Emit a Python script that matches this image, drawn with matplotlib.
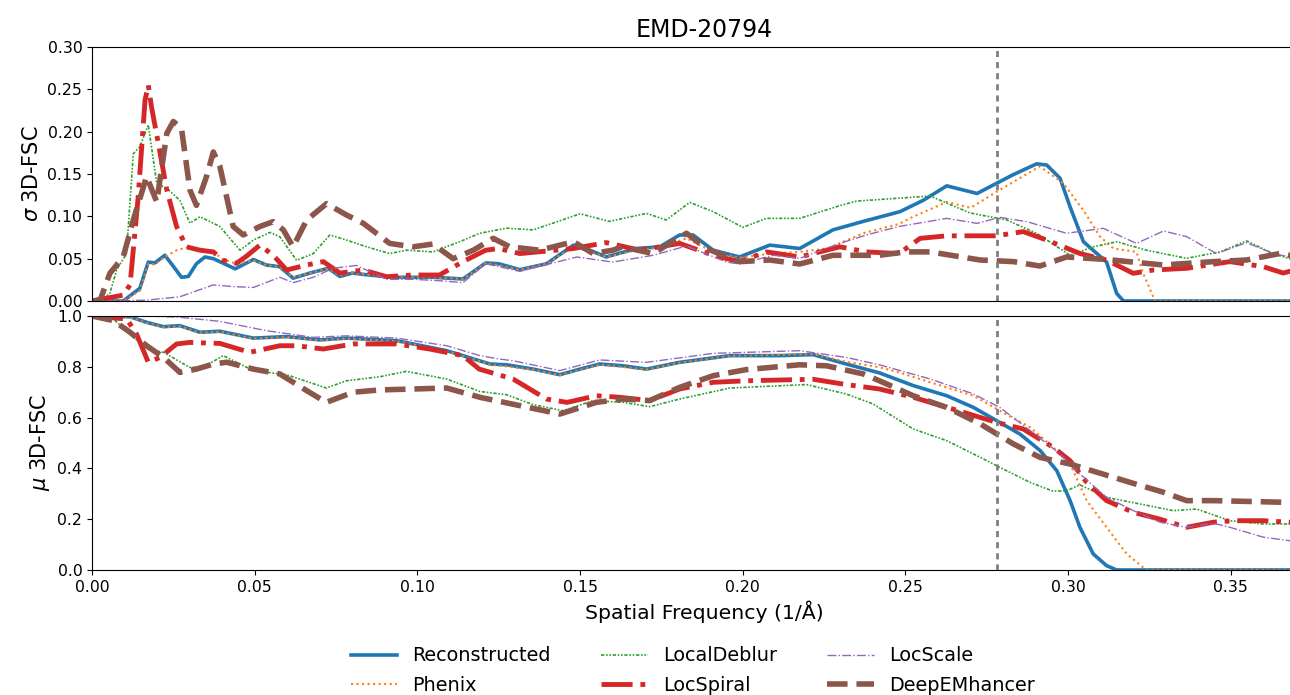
import numpy as np
import matplotlib.pyplot as plt

# sigma of 3D-FSC (top panel), (spatial frequency, value)
recon_sigma = [(0, 0), (0.0096, 0), (0.0147, 0.015), (0.0173, 0.046), (0.0193, 0.045), (0.0224, 0.054),
               (0.025, 0.041), (0.0275, 0.028), (0.0296, 0.029), (0.0321, 0.044), (0.0347, 0.052),
               (0.0373, 0.050), (0.044, 0.038), (0.0496, 0.049), (0.0536, 0.0425), (0.0577, 0.0405),
               (0.0618, 0.027), (0.067, 0.033), (0.0726, 0.0386), (0.0762, 0.029), (0.080, 0.033),
               (0.0844, 0.031), (0.0925, 0.028), (0.0987, 0.028), (0.105, 0.028), (0.114, 0.026),
               (0.121, 0.045), (0.125, 0.044), (0.1315, 0.037), (0.1397, 0.044), (0.148, 0.066),
               (0.153, 0.060), (0.158, 0.052), (0.1673, 0.062), (0.1745, 0.064), (0.1806, 0.078),
               (0.1847, 0.078), (0.1909, 0.060), (0.199, 0.052), (0.2083, 0.066), (0.2175, 0.062),
               (0.2277, 0.084), (0.237, 0.094), (0.2483, 0.1055), (0.2555, 0.119), (0.2627, 0.136),
               (0.272, 0.127), (0.278, 0.139), (0.283, 0.149), (0.2903, 0.162), (0.2934, 0.1606),
               (0.2975, 0.145), (0.3006, 0.111), (0.3047, 0.070), (0.3118, 0.046), (0.3149, 0.009),
               (0.317, 0), (0.38, 0)]
phenix_sigma = [(0, 0), (0.0096, 0), (0.0147, 0.012), (0.0173, 0.044), (0.0193, 0.043), (0.0224, 0.052),
                (0.026, 0.060), (0.029, 0.063), (0.0332, 0.060), (0.0373, 0.058), (0.0403, 0.049),
                (0.0444, 0.044), (0.0496, 0.048), (0.0536, 0.0425), (0.0577, 0.040), (0.0618, 0.028),
                (0.067, 0.033), (0.0726, 0.038), (0.0762, 0.030), (0.080, 0.033), (0.0925, 0.028),
                (0.105, 0.028), (0.114, 0.026), (0.121, 0.045), (0.1315, 0.037), (0.1397, 0.044),
                (0.148, 0.064), (0.158, 0.052), (0.1673, 0.060), (0.1745, 0.063), (0.1827, 0.074),
                (0.1909, 0.058), (0.199, 0.051), (0.2083, 0.056), (0.2175, 0.058), (0.226, 0.062),
                (0.237, 0.080), (0.248, 0.091), (0.2524, 0.0996), (0.2627, 0.117), (0.27, 0.110),
                (0.278, 0.129), (0.2913, 0.159), (0.2985, 0.139), (0.3047, 0.107), (0.3098, 0.076),
                (0.3139, 0.062), (0.321, 0.058), (0.323, 0.033), (0.3267, 0), (0.38, 0)]
deblur_sigma = [(0, 0), (0.0025, 0), (0.0055, 0.009), (0.0076, 0.037), (0.0106, 0.056), (0.0127, 0.174),
                (0.0147, 0.182), (0.0173, 0.208), (0.0199, 0.139), (0.023, 0.133), (0.027, 0.119),
                (0.0301, 0.092), (0.0332, 0.0996), (0.0393, 0.088), (0.0455, 0.060), (0.0496, 0.072),
                (0.0547, 0.081), (0.0577, 0.076), (0.0629, 0.048), (0.068, 0.056), (0.0731, 0.078),
                (0.0782, 0.072), (0.0844, 0.064), (0.0915, 0.056), (0.0966, 0.060), (0.1048, 0.058),
                (0.113, 0.070), (0.1192, 0.080), (0.1274, 0.086), (0.1356, 0.084), (0.15, 0.103),
                (0.159, 0.094), (0.1704, 0.1035), (0.1765, 0.0957), (0.1837, 0.1165), (0.1909, 0.1055),
                (0.2, 0.087), (0.2073, 0.0976), (0.2175, 0.0976), (0.2298, 0.1126), (0.235, 0.118),
                (0.2576, 0.124), (0.2698, 0.104), (0.2811, 0.0957), (0.2903, 0.080), (0.3006, 0.054),
                (0.3077, 0.064), (0.315, 0.070), (0.3241, 0.060), (0.3364, 0.0504), (0.3467, 0.058),
                (0.3548, 0.071), (0.363, 0.056), (0.368, 0.050), (0.38, 0.048)]
spiral_sigma = [(0, 0), (0.0096, 0.007), (0.0117, 0.019), (0.0142, 0.123), (0.0163, 0.237), (0.0173, 0.255),
                (0.0183, 0.229), (0.0204, 0.186), (0.023, 0.131), (0.026, 0.088), (0.029, 0.064),
                (0.0332, 0.060), (0.0373, 0.058), (0.0403, 0.048), (0.0444, 0.0445), (0.0475, 0.053),
                (0.0516, 0.066), (0.0557, 0.054), (0.0598, 0.0366), (0.066, 0.0425), (0.0711, 0.0465),
                (0.0762, 0.033), (0.0834, 0.0366), (0.0905, 0.0287), (0.0987, 0.0307), (0.1068, 0.0307),
                (0.114, 0.0465), (0.121, 0.060), (0.125, 0.062), (0.1315, 0.056), (0.148, 0.062),
                (0.158, 0.069), (0.1683, 0.060), (0.1806, 0.068), (0.1909, 0.054), (0.199, 0.0465),
                (0.2073, 0.058), (0.2175, 0.052), (0.2298, 0.064), (0.238, 0.058), (0.248, 0.056),
                (0.2545, 0.074), (0.2627, 0.077), (0.278, 0.077), (0.2862, 0.082), (0.2934, 0.072),
                (0.3037, 0.056), (0.3118, 0.0484), (0.32, 0.0327), (0.3262, 0.0366), (0.3364, 0.0386),
                (0.3497, 0.0465), (0.36, 0.0405), (0.3661, 0.033), (0.368, 0.035), (0.38, 0.036)]
locscale_sigma = [(0, 0), (0.006, 0), (0.0168, 0.001), (0.027, 0.005), (0.0373, 0.019), (0.0434, 0.017),
                  (0.0496, 0.016), (0.0577, 0.028), (0.0618, 0.0217), (0.068, 0.028), (0.0741, 0.0386),
                  (0.0813, 0.042), (0.0905, 0.0256), (0.0987, 0.0256), (0.1068, 0.024), (0.114, 0.0217),
                  (0.121, 0.044), (0.125, 0.0406), (0.1315, 0.035), (0.149, 0.052), (0.160, 0.046),
                  (0.1725, 0.054), (0.1827, 0.065), (0.195, 0.046), (0.199, 0.0437), (0.2093, 0.054),
                  (0.2175, 0.0504), (0.2298, 0.068), (0.238, 0.078), (0.248, 0.088), (0.2627, 0.0976),
                  (0.272, 0.0917), (0.279, 0.0988), (0.2873, 0.0937), (0.2995, 0.080), (0.3108, 0.0858),
                  (0.321, 0.068), (0.3293, 0.0827), (0.3364, 0.076), (0.3456, 0.056), (0.3548, 0.069),
                  (0.363, 0.056), (0.368, 0.052), (0.38, 0.050)]
deepem_sigma = [(0, 0), (0.0025, 0.001), (0.0055, 0.0327), (0.0096, 0.052), (0.0127, 0.0957), (0.0168, 0.147),
                (0.0199, 0.117), (0.023, 0.198), (0.025, 0.212), (0.0275, 0.204), (0.0301, 0.131),
                (0.0321, 0.113), (0.0352, 0.147), (0.0373, 0.176), (0.0393, 0.159), (0.0434, 0.088),
                (0.0465, 0.078), (0.0516, 0.088), (0.0557, 0.0937), (0.0588, 0.084), (0.0618, 0.064),
                (0.066, 0.0957), (0.0721, 0.115), (0.0782, 0.1016), (0.0834, 0.0917), (0.0915, 0.068),
                (0.0987, 0.064), (0.1048, 0.0673), (0.111, 0.050), (0.1172, 0.060), (0.1233, 0.074),
                (0.1284, 0.064), (0.1376, 0.060), (0.148, 0.070), (0.154, 0.056), (0.160, 0.060),
                (0.163, 0.064), (0.1724, 0.056), (0.1827, 0.080), (0.1888, 0.062), (0.199, 0.0465),
                (0.2083, 0.0484), (0.2175, 0.0437), (0.2277, 0.054), (0.242, 0.054), (0.250, 0.058),
                (0.2576, 0.058), (0.273, 0.0484), (0.2832, 0.0465), (0.2913, 0.0413), (0.2995, 0.052),
                (0.3118, 0.049), (0.3293, 0.0425), (0.3446, 0.0465), (0.3548, 0.0484), (0.365, 0.056),
                (0.368, 0.054), (0.38, 0.053)]

# mean of 3D-FSC (bottom panel)
recon_mu = [(0, 1.0), (0.0117, 0.997), (0.0168, 0.975), (0.022, 0.958), (0.027, 0.962), (0.0332, 0.936),
            (0.0393, 0.94), (0.0496, 0.913), (0.0598, 0.919), (0.070, 0.906), (0.0782, 0.913),
            (0.0936, 0.903), (0.109, 0.8635), (0.1223, 0.811), (0.1274, 0.808), (0.1356, 0.791),
            (0.1438, 0.769), (0.15, 0.791), (0.156, 0.811), (0.1632, 0.804), (0.1704, 0.791),
            (0.1806, 0.8176), (0.196, 0.844), (0.2114, 0.844), (0.2216, 0.848), (0.2318, 0.811),
            (0.242, 0.776), (0.2524, 0.726), (0.2627, 0.686), (0.2709, 0.640), (0.278, 0.588),
            (0.2852, 0.535), (0.2914, 0.470), (0.2965, 0.391), (0.3006, 0.273), (0.3036, 0.168),
            (0.3077, 0.063), (0.3118, 0.017), (0.3149, 0), (0.38, 0)]
phenix_mu = [(0, 1.0), (0.0117, 0.995), (0.0168, 0.973), (0.022, 0.956), (0.027, 0.960), (0.0332, 0.934),
             (0.0393, 0.938), (0.0496, 0.911), (0.0598, 0.917), (0.070, 0.904), (0.0782, 0.911),
             (0.0936, 0.901), (0.109, 0.862), (0.1223, 0.809), (0.1356, 0.789), (0.1438, 0.767),
             (0.156, 0.809), (0.1704, 0.789), (0.1806, 0.816), (0.196, 0.843), (0.2216, 0.850),
             (0.2318, 0.820), (0.242, 0.798), (0.248, 0.778), (0.2576, 0.739), (0.2709, 0.686),
             (0.279, 0.627), (0.2883, 0.562), (0.2954, 0.483), (0.3006, 0.417), (0.3057, 0.273),
             (0.3118, 0.168), (0.318, 0.063), (0.324, 0), (0.38, 0)]
deblur_mu = [(0, 1.0), (0.0066, 0.988), (0.0117, 0.929), (0.0168, 0.870), (0.022, 0.857), (0.030, 0.798),
             (0.0342, 0.798), (0.0403, 0.844), (0.0496, 0.785), (0.0598, 0.769), (0.072, 0.7165),
             (0.0782, 0.745), (0.0885, 0.761), (0.0966, 0.782), (0.109, 0.752), (0.1192, 0.703),
             (0.1274, 0.690), (0.1356, 0.651), (0.1448, 0.627), (0.154, 0.667), (0.1632, 0.660),
             (0.1714, 0.643), (0.1806, 0.673), (0.196, 0.7165), (0.2196, 0.730), (0.2318, 0.693),
             (0.24, 0.654), (0.248, 0.590), (0.2524, 0.555), (0.2627, 0.509), (0.273, 0.4436),
             (0.279, 0.404), (0.2883, 0.345), (0.2954, 0.310), (0.2995, 0.312), (0.3036, 0.335),
             (0.3118, 0.286), (0.322, 0.260), (0.3323, 0.2336), (0.3395, 0.240), (0.3497, 0.194),
             (0.36, 0.181), (0.368, 0.181), (0.38, 0.181)]
spiral_mu = [(0, 1.0), (0.0107, 0.988), (0.0137, 0.929), (0.0173, 0.818), (0.0209, 0.837), (0.026, 0.89),
             (0.030, 0.896), (0.0393, 0.892), (0.0485, 0.857), (0.0577, 0.883), (0.0629, 0.883),
             (0.0711, 0.870), (0.0803, 0.89), (0.0936, 0.89), (0.1038, 0.870), (0.114, 0.844),
             (0.119, 0.791), (0.1294, 0.752), (0.1397, 0.673), (0.146, 0.660), (0.155, 0.686),
             (0.1622, 0.680), (0.1714, 0.667), (0.1806, 0.7126), (0.1909, 0.739), (0.2011, 0.745),
             (0.2216, 0.751), (0.2318, 0.730), (0.242, 0.7126), (0.2524, 0.680), (0.2678, 0.621),
             (0.278, 0.581), (0.2862, 0.555), (0.2954, 0.483), (0.3006, 0.430), (0.3057, 0.345),
             (0.3118, 0.273), (0.32, 0.227), (0.3282, 0.2), (0.3364, 0.168), (0.3446, 0.188),
             (0.3508, 0.194), (0.36, 0.194), (0.368, 0.188), (0.38, 0.188)]
locscale_mu = [(0, 1.0), (0.0168, 1.0), (0.027, 0.995), (0.0393, 0.979), (0.0537, 0.942), (0.068, 0.916),
               (0.0782, 0.922), (0.0936, 0.913), (0.109, 0.883), (0.1192, 0.844), (0.125, 0.831),
               (0.1294, 0.824), (0.1438, 0.785), (0.156, 0.827), (0.1704, 0.8176), (0.1909, 0.853),
               (0.2175, 0.8635), (0.2318, 0.837), (0.242, 0.808), (0.2576, 0.752), (0.2709, 0.693),
               (0.279, 0.640), (0.2883, 0.549), (0.2975, 0.457), (0.3036, 0.378), (0.3118, 0.286),
               (0.32, 0.234), (0.3282, 0.188), (0.3364, 0.168), (0.3446, 0.184), (0.3497, 0.168),
               (0.36, 0.129), (0.368, 0.1155), (0.38, 0.110)]
deepem_mu = [(0, 1.0), (0.0066, 0.982), (0.0117, 0.936), (0.0168, 0.883), (0.022, 0.837), (0.027, 0.778),
             (0.0321, 0.791), (0.0373, 0.811), (0.0414, 0.818), (0.0496, 0.791), (0.0577, 0.772),
             (0.066, 0.706), (0.072, 0.660), (0.0803, 0.700), (0.0885, 0.709), (0.0987, 0.7126),
             (0.109, 0.7165), (0.1192, 0.680), (0.1315, 0.647), (0.1438, 0.614), (0.155, 0.660),
             (0.1632, 0.673), (0.1714, 0.667), (0.1806, 0.719), (0.1909, 0.765), (0.2011, 0.789),
             (0.2175, 0.808), (0.2257, 0.804), (0.237, 0.772), (0.242, 0.745), (0.2524, 0.686),
             (0.2627, 0.640), (0.273, 0.575), (0.2832, 0.496), (0.2913, 0.4436), (0.3006, 0.417),
             (0.3088, 0.385), (0.319, 0.345), (0.3293, 0.306), (0.3364, 0.273), (0.3446, 0.273),
             (0.3548, 0.270), (0.368, 0.266), (0.38, 0.265)]

labels = ['Reconstructed', 'Phenix', 'LocalDeblur', 'LocSpiral', 'LocScale', 'DeepEMhancer']
sigma_data = [recon_sigma, phenix_sigma, deblur_sigma, spiral_sigma, locscale_sigma, deepem_sigma]
mu_data = [recon_mu, phenix_mu, deblur_mu, spiral_mu, locscale_mu, deepem_mu]
resolution = 0.278

styles = [
    dict(color='tab:blue', ls='-', lw=2.6),
    dict(color='tab:orange', ls=':', lw=1.5),
    dict(color='tab:green', ls=(0, (2, 1, 1, 1, 1, 1)), lw=1.2),
    dict(color='tab:red', ls='-.', lw=3.5),
    dict(color='tab:purple', ls='-.', lw=1.0),
    dict(color='tab:brown', ls='--', lw=4.0),
]

fig = plt.figure(figsize=(12.9, 6.95), dpi=100)
ax1 = fig.add_axes([0.0713, 0.5669, 0.9487, 0.3655])
ax2 = fig.add_axes([0.0713, 0.1799, 0.9487, 0.3654], sharex=ax1)

handles = []
for data, st in zip(sigma_data, styles):
    arr = np.array(data)
    ax1.plot(arr[:, 0], arr[:, 1], **st)
for data, st, lab in zip(mu_data, styles, labels):
    arr = np.array(data)
    h, = ax2.plot(arr[:, 0], arr[:, 1], label=lab, **st)
    handles.append(h)

# resolution marker
for ax in (ax1, ax2):
    ax.axvline(resolution, color='gray', lw=2, ls=(0, (2.2, 1.8)))
    ax.spines['right'].set_visible(False)
    ax.tick_params(labelsize=11.3)

ax1.set_xlim(0, 0.3761)
ax1.set_ylim(0, 0.30)
ax1.set_yticks([0, 0.05, 0.10, 0.15, 0.20, 0.25, 0.30])
ax1.tick_params(axis='x', bottom=False, labelbottom=False)
ax1.set_ylabel(r'$\sigma$ 3D-FSC', fontsize=15)
ax1.set_title('EMD-20794', fontsize=17, pad=7)

ax2.set_ylim(0, 1.0)
ax2.set_yticks([0, 0.2, 0.4, 0.6, 0.8, 1.0])
ax2.set_xticks([0, 0.05, 0.10, 0.15, 0.20, 0.25, 0.30, 0.35])
ax2.set_ylabel(r'$\mu$ 3D-FSC', fontsize=15)
ax2.set_xlabel('Spatial Frequency (1/Å)', fontsize=14.7)

fig.legend(handles=handles, loc='upper center', bbox_to_anchor=(0.537, 0.095), ncol=3,
           frameon=False, fontsize=13.9, handlelength=2.4, columnspacing=2.6, labelspacing=0.55)

fig.savefig('out.png', dpi=100)
